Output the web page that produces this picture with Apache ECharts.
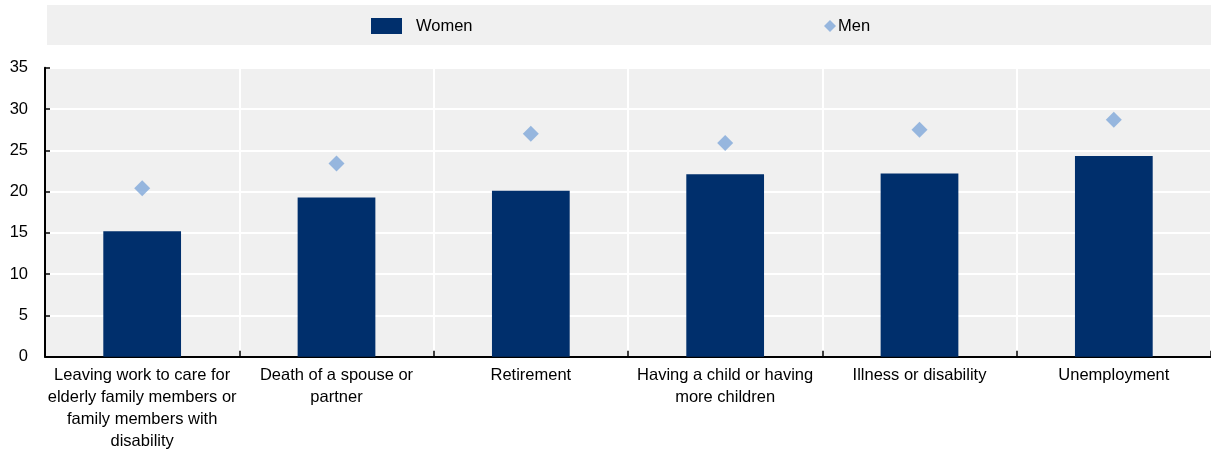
<!DOCTYPE html>
<html>
<head>
<meta charset="utf-8">
<script src="https://cdn.jsdelivr.net/npm/echarts@6/dist/echarts.min.js"></script>
<style>
  html, body { margin: 0; padding: 0; background: #fff; }
  #chart { width: 1211px; height: 453px; }
</style>
</head>
<body>
<div id="chart"></div>
<script>
// Reasons for leaving / life events, share by sex (%)
const categories = [
  'Leaving work to care for\nelderly family members or\nfamily members with\ndisability',
  'Death of a spouse or\npartner',
  'Retirement',
  'Having a child or having\nmore children',
  'Illness or disability',
  'Unemployment'
];
const women = [15.2, 19.3, 20.1, 22.1, 22.2, 24.3];
const men = [20.4, 23.4, 27.0, 25.9, 27.5, 28.7];
const yTicks = [0, 5, 10, 15, 20, 25, 30, 35];

const FONT = '"Liberation Sans", Arial, sans-serif';
const FS = 16.5;
const NAVY = '#002f6c';
const LIGHT = '#7fa7d9';

const chart = echarts.init(document.getElementById('chart'), null, { renderer: 'canvas' });

chart.setOption({
  animation: false,
  backgroundColor: '#ffffff',
  textStyle: { fontFamily: FONT },
  graphic: [{
    type: 'rect',
    z: -10,
    shape: { x: 47, y: 5, width: 1164, height: 40 },
    style: { fill: '#f0f0f0' }
  }],
  legend: [
    {
      data: [{ name: 'Women', icon: 'rect' }],
      left: 371, top: 17.5, padding: 0,
      itemWidth: 31, itemHeight: 16,
      textStyle: { fontFamily: FONT, fontSize: FS, color: '#000', padding: [0, 0, 0, 9] }
    },
    {
      data: [{ name: 'Men', icon: 'diamond' }],
      left: 824, top: 17.5, padding: 0,
      itemWidth: 12, itemHeight: 12,
      textStyle: { fontFamily: FONT, fontSize: FS, color: '#000', padding: [0, 0, 0, -3] }
    }
  ],
  grid: {
    left: 45, top: 67.8, right: 0, height: 288.9,
    show: true, backgroundColor: '#f0f0f0', borderWidth: 0,
    containLabel: false
  },
  xAxis: {
    type: 'category',
    data: categories,
    boundaryGap: true,
    axisLine: { show: true, lineStyle: { color: '#000', width: 2 } },
    axisTick: { show: true, inside: true, length: 6, alignWithLabel: false, lineStyle: { color: '#000', width: 1.5 } },
    splitLine: { show: true, lineStyle: { color: '#ffffff', width: 2 } },
    axisLabel: {
      interval: 0, margin: 8, color: '#000',
      fontFamily: FONT, fontSize: FS, lineHeight: 22, align: 'center'
    }
  },
  yAxis: {
    type: 'value',
    min: yTicks[0], max: yTicks[yTicks.length - 1], interval: 5,
    axisLine: { show: true, lineStyle: { color: '#000', width: 2 } },
    axisTick: { show: true, inside: true, length: 5, lineStyle: { color: '#000', width: 1.5 } },
    splitLine: { show: true, lineStyle: { color: '#ffffff', width: 2 } },
    axisLabel: { margin: 17, color: '#000', fontFamily: FONT, fontSize: FS }
  },
  series: [
    {
      name: 'Women',
      type: 'bar',
      data: women,
      barWidth: '40%',
      itemStyle: { color: NAVY },
      z: 2
    },
    {
      name: 'Men',
      type: 'scatter',
      data: men,
      symbol: 'diamond',
      symbolSize: 16,
      itemStyle: { color: LIGHT },
      z: 3
    }
  ]
});
</script>
</body>
</html>
